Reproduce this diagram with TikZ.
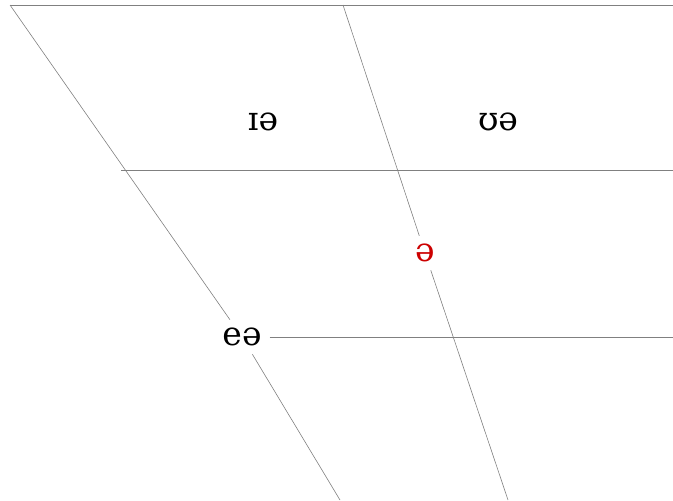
\documentclass[tikz,border=0pt]{standalone}
\usepackage{fontspec}
\setmainfont{DejaVu Serif}
\usetikzlibrary{positioning, calc}

\begin{document}
\begin{tikzpicture}[
    x=1pt, y=-1pt,
    grid/.style={draw=gray, line width=0.6pt},
    vowel/.style={font=\fontsize{33}{38}\selectfont, inner sep=8pt},
]
    \useasboundingbox (0, 0) rectangle (673, 501);

    % Corner points of the chart
    \coordinate (lt) at (10, 5);
    \coordinate (mt) at (343, 5);
    \coordinate (rt) at (673, 5);
    \coordinate (lb) at (340, 500);
    \coordinate (mb) at (508, 500);
    \coordinate (l2) at (121, 170);
    \coordinate (r2) at (673, 170);
    \coordinate (r3) at (673, 337);

    % Vowel labels
    \node[vowel] (ie) at (263, 122) {ɪə};
    \node[vowel] (ue) at (498, 122) {ʊə};
    \node[vowel, text=red!80!black] (schwa) at (425, 253) {ə};
    \node[vowel] (ea) at (242, 337) {eə};

    % Outline
    \draw[grid] (lt) -- (rt);
    \draw[grid] (l2) -- (r2);
    \draw[grid] (ea) -- (r3);
    \draw[grid] (lt) -- (ea) -- (lb);
    \draw[grid] (mt) -- (schwa) -- (mb);
\end{tikzpicture}
\end{document}
